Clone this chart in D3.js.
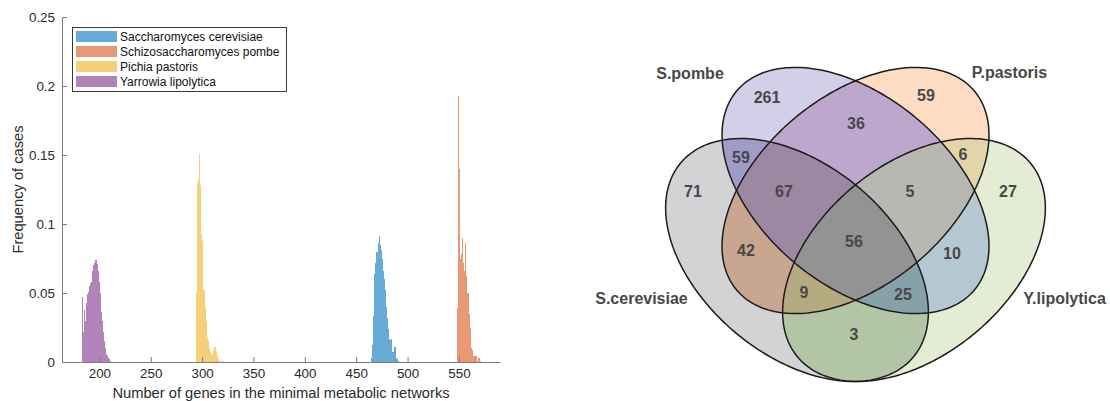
<!DOCTYPE html>
<html>
<head>
<meta charset="utf-8">
<script src="https://cdn.jsdelivr.net/npm/d3@7"></script>
<style>
  html, body { margin: 0; padding: 0; background: #fff; }
  svg { display: block; }
</style>
</head>
<body>
<svg id="chart" width="1110" height="401"></svg>
<script>
// ---------- Histogram: minimal metabolic network sizes (bin width = 1 gene) ----------
const species = ["Saccharomyces cerevisiae", "Schizosaccharomyces pombe", "Pichia pastoris", "Yarrowia lipolytica"];

const cerevisiaeStart = 464;
const cerevisiaeFreq = [0.003, 0.012, 0.033, 0.064, 0.072, 0.080, 0.080, 0.086, 0.091, 0.085, 0.081, 0.075,
  0.066, 0.060, 0.052, 0.040, 0.032, 0.024, 0.017, 0.016, 0.017, 0.007, 0.005, 0.011, 0.003, 0.002, 0.001];

const pombeStart = 548;
const pombeFreq = [0.039, 0.193, 0.140, 0.075, 0.078, 0.090, 0.072, 0.066, 0.086, 0.062, 0.050, 0.035,
  0.025, 0.010, 0.009, 0.004, 0.002, 0.004, 0.004, 0.001, 0, 0.003, 0.001];

const pastorisStart = 294;
const pastorisFreq = [0.051, 0.130, 0.132, 0.151, 0.128, 0.093, 0.088, 0.052, 0.040, 0.030, 0.018, 0.016,
  0.010, 0.007, 0.004, 0.003, 0.006, 0.009, 0.011, 0.008, 0.004, 0.002, 0.001, 0, 0.002, 0, 0.001];

const lipolyticaStart = 183;
const lipolyticaFreq = [0.047, 0.022, 0.038, 0.030, 0.043, 0.049, 0.051, 0.055, 0.057, 0.058, 0.066, 0.070,
  0.072, 0.074, 0.071, 0.066, 0.058, 0.050, 0.036, 0.030, 0.022, 0.015, 0.010, 0.006, 0.004, 0.003, 0.002, 0.001];

const xTicks = [200, 250, 300, 350, 400, 450, 500, 550];
const yTicks = [0, 0.05, 0.1, 0.15, 0.2, 0.25];
const yTickLabels = ["0", "0.05", "0.1", "0.15", "0.2", "0.25"];

// ---------- Venn diagram: shared genes between the four yeasts ----------
const vennSets = ["S.cerevisiae", "S.pombe", "P.pastoris", "Y.lipolytica"];
const vennRegions = [[1], [2], [0], [3], [0, 1], [1, 2], [2, 3], [1, 3], [0, 2], [0, 3],
  [0, 1, 2], [1, 2, 3], [0, 2, 3], [0, 1, 3], [0, 1, 2, 3]];
const vennCounts = [261, 59, 71, 27, 59, 36, 6, 10, 42, 3, 67, 5, 9, 25, 56];

// ---------- styles & layout ----------
const histColors = ["#66aad7", "#e89875", "#f4d079", "#b282bb"];
const regionColors = ["#d2d0e8", "#fedbc3", "#d3d3d6", "#e4ecd3", "#9f9cc7", "#bea7cc", "#e2d5a9",
  "#b3c8d0", "#c9a690", "#b2c6a6", "#9d88a4", "#b7b8b1", "#b6ab80", "#86a1aa", "#939393"];

// ellipse layout in Venn units: centre, semi-axes, tilt (degrees, screen orientation)
const ellipseCx = [-0.585, 0, 0, 0.585];
const ellipseCy = [0.695, 0, 0, 0.695];
const ellipseA = [1.515, 1.55, 1.55, 1.515];
const ellipseB = [0.952, 0.945, 0.945, 0.952];
const ellipseTilt = [39.8, 39.9, -39.9, -39.8];

// label anchors in Venn units
const countX = [-0.885, 0.705, -1.625, 1.525, -1.145, 0.005, 1.075, 0.965, -1.095, -0.015,
  -0.715, 0.545, -0.515, 0.475, -0.015];
const countY = [-0.935, -0.955, 0.005, 0.005, -0.335, -0.675, -0.365, 0.625, 0.595, 1.435,
  0.005, 0.005, 1.015, 1.035, 0.505];
const setLabelX = [-2.14, -1.655, 1.54, 2.09];
const setLabelY = [1.075, -1.175, -1.185, 1.075];

const svg = d3.select("#chart");
const FONT = "'Liberation Sans', Arial, Helvetica, sans-serif";

// ================= Histogram =================
const x = d3.scaleLinear().domain([163.6, 590]).range([62, 500]);
const y = d3.scaleLinear().domain([0, 0.25]).range([362, 17]);

const series = [
  { start: cerevisiaeStart, freq: cerevisiaeFreq },
  { start: pombeStart, freq: pombeFreq },
  { start: pastorisStart, freq: pastorisFreq },
  { start: lipolyticaStart, freq: lipolyticaFreq }
];

const hist = svg.append("g").attr("shape-rendering", "crispEdges");
series.forEach((s, si) => {
  const bins = s.freq.map((f, i) => ({ v: s.start + i, f }));
  hist.append("g")
    .selectAll("rect")
    .data(bins.filter(b => b.f > 0))
    .join("rect")
    .attr("x", d => x(d.v))
    // a hair of overlap keeps adjacent 1-gene bins from showing seams
    .attr("width", d => x(d.v + 1) - x(d.v) + 0.35)
    .attr("y", d => y(d.f))
    .attr("height", d => y(0) - y(d.f))
    .attr("fill", histColors[si]);
});

const axisColor = "#7d7d7d";
const tickText = "#2b2b2b";

const xAxis = svg.append("g")
  .attr("transform", `translate(0,${y(0)})`)
  .call(d3.axisBottom(x).tickValues(xTicks).tickSizeInner(-5).tickSizeOuter(0).tickPadding(6));
const yAxis = svg.append("g")
  .attr("transform", `translate(${x.range()[0]},0)`)
  .call(d3.axisLeft(y).tickValues(yTicks).tickFormat((d, i) => yTickLabels[i])
    .tickSizeInner(-5).tickSizeOuter(0).tickPadding(7));

[xAxis, yAxis].forEach(g => {
  g.select(".domain").attr("stroke", axisColor).attr("stroke-width", 1);
  g.selectAll(".tick line").attr("stroke", axisColor).attr("stroke-width", 1);
  g.selectAll(".tick text").attr("fill", tickText).attr("font-size", 13.4).attr("font-family", FONT);
});

svg.append("text")
  .attr("x", (x.range()[0] + x.range()[1]) / 2)
  .attr("y", 398)
  .attr("text-anchor", "middle")
  .attr("font-family", FONT)
  .attr("font-size", 14.7)
  .attr("fill", tickText)
  .text("Number of genes in the minimal metabolic networks");

svg.append("text")
  .attr("transform", `translate(23,${(y.range()[0] + y.range()[1]) / 2}) rotate(-90)`)
  .attr("text-anchor", "middle")
  .attr("font-family", FONT)
  .attr("font-size", 14.7)
  .attr("fill", tickText)
  .text("Frequency of cases");

// legend
const legend = svg.append("g").attr("transform", "translate(72,27)");
legend.append("rect")
  .attr("x", 0.5).attr("y", 0.5).attr("width", 214).attr("height", 64)
  .attr("fill", "#fff").attr("stroke", "#262626").attr("stroke-width", 0.9);
species.forEach((name, i) => {
  const cy = 9.5 + i * 15;
  legend.append("rect")
    .attr("x", 4).attr("y", cy - 5.5).attr("width", 41).attr("height", 11)
    .attr("fill", histColors[i]);
  legend.append("text")
    .attr("x", 48).attr("y", cy).attr("dy", "0.35em")
    .attr("font-family", FONT).attr("font-size", 12).attr("fill", "#111")
    .text(name);
});

// ================= Venn diagram =================
const xV = d3.scaleLinear().domain([0, 1]).range([855.5, 955.5]);
const yV = d3.scaleLinear().domain([0, 1]).range([190.5, 290.5]);

function ellipsePoints(i) {
  const n = 240, t0 = ellipseTilt[i] * Math.PI / 180;
  const ct = Math.cos(t0), st = Math.sin(t0);
  return d3.range(n).map(k => {
    const t = 2 * Math.PI * k / n;
    const ex = ellipseA[i] * Math.cos(t), ey = ellipseB[i] * Math.sin(t);
    return [ellipseCx[i] + ex * ct - ey * st, ellipseCy[i] + ex * st + ey * ct];
  });
}
const ellipseLine = d3.line().x(d => xV(d[0])).y(d => yV(d[1])).curve(d3.curveLinearClosed);
const ellipsePaths = vennSets.map((s, i) => ellipseLine(ellipsePoints(i)));

const defs = svg.append("defs");
ellipsePaths.forEach((p, i) => {
  defs.append("clipPath").attr("id", "vclip-" + i).append("path").attr("d", p);
});

// paint intersections from fewest to most sets so each region ends with its own colour
const order = d3.range(vennRegions.length).sort((a, b) => vennRegions[a].length - vennRegions[b].length);
const venn = svg.append("g");
order.forEach(r => {
  const sets = vennRegions[r];
  let g = venn.append("g");
  sets.slice(0, -1).forEach(si => { g = g.append("g").attr("clip-path", `url(#vclip-${si})`); });
  g.append("path").attr("d", ellipsePaths[sets[sets.length - 1]]).attr("fill", regionColors[r]);
});

venn.selectAll("path.outline")
  .data(ellipsePaths)
  .join("path")
  .attr("class", "outline")
  .attr("d", d => d)
  .attr("fill", "none")
  .attr("stroke", "#1c1c1c")
  .attr("stroke-width", 1.5);

venn.selectAll("text.count")
  .data(vennCounts)
  .join("text")
  .attr("class", "count")
  .attr("x", (d, i) => xV(countX[i]))
  .attr("y", (d, i) => yV(countY[i]))
  .attr("dy", "0.36em")
  .attr("text-anchor", "middle")
  .attr("font-family", FONT)
  .attr("font-weight", "bold")
  .attr("font-size", 16)
  .attr("fill", "#484848")
  .text(d => d);

venn.selectAll("text.setname")
  .data(vennSets)
  .join("text")
  .attr("class", "setname")
  .attr("x", (d, i) => xV(setLabelX[i]))
  .attr("y", (d, i) => yV(setLabelY[i]))
  .attr("dy", "0.36em")
  .attr("text-anchor", "middle")
  .attr("font-family", FONT)
  .attr("font-weight", "bold")
  .attr("font-size", 16)
  .attr("fill", "#484848")
  .text(d => d);
</script>
</body>
</html>
